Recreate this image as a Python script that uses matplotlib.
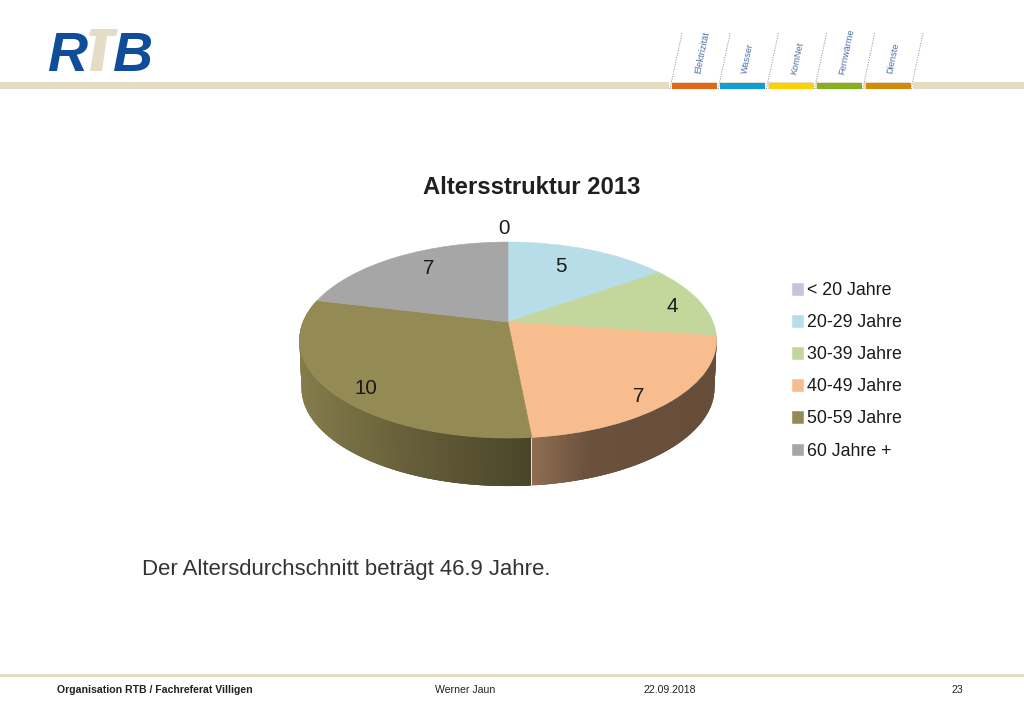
import numpy as np
import matplotlib
matplotlib.use("Agg")
import matplotlib.pyplot as plt
from matplotlib.collections import PolyCollection
from matplotlib.patches import Polygon, Rectangle
from matplotlib.transforms import Transform

categories = ["< 20 Jahre", "20-29 Jahre", "30-39 Jahre", "40-49 Jahre", "50-59 Jahre", "60 Jahre +"]
values = [0, 5, 4, 7, 10, 7]
colors = ["#ccc1da", "#b7dde8", "#c3d69b", "#f7bd8e", "#948a54", "#a6a6a6"]

tabs = ["Elektrizität", "Wasser", "KomNet", "Fernwärme", "Dienste"]
tab_colors = ["#e0661a", "#0f9ed5", "#fdd200", "#85b01f", "#d08c0a"]

BEIGE = "#e4dcc5"
BLUE = "#0f4c9a"

plt.rcParams["font.family"] = ["Liberation Sans", "DejaVu Sans"]


# tilted disc: front of the pie comes out bigger than the back
class Tilt(Transform):
    input_dims = 2
    output_dims = 2

    def transform_non_affine(self, values):
        values = np.asarray(values, dtype=float)
        w = 1 + 0.184 * values[:, 1]
        return np.column_stack([508 + 205 * values[:, 0] / w, 322 - 94.7 * values[:, 1] / w])


fig = plt.figure(figsize=(10.24, 7.09), dpi=100)
ax = fig.add_axes([0, 0, 1, 1])

wedges, _ = ax.pie(values, colors=colors, startangle=90, counterclock=False, frame=True)
tilt = Tilt()
for w, c in zip(wedges, colors):
    w.set_transform(tilt + ax.transData)
    w.set_edgecolor(c)
    w.set_linewidth(0.4)
    w.set_zorder(3)

ax.set_xlim(0, 1024)
ax.set_ylim(709, 0)
ax.set_aspect("auto")
ax.axis("off")

# side wall of the visible slices, shaded along x
shades = {3: ([532, 590, 716], [0.58, 0.43, 0.41]), 4: ([300, 400, 530], [0.9, 0.7, 0.5])}
for idx, (keys, fac) in shades.items():
    t = np.radians(np.linspace(wedges[idx].theta1, wedges[idx].theta2, 160))
    top = tilt.transform_non_affine(np.column_stack([np.cos(t), np.sin(t)]))
    low = top.copy()
    low[:, 0] = 508 + (low[:, 0] - 508) * 0.99
    low[:, 1] += 48
    # each strip overlaps the next one, otherwise the seams show
    quads = [[top[i], top[min(i + 3, len(t) - 1)], low[min(i + 3, len(t) - 1)], low[i]] for i in range(len(t) - 1)]
    base = np.array(matplotlib.colors.to_rgb(colors[idx]))
    mid = (top[:-1, 0] + top[1:, 0]) / 2
    cols = [tuple(base * f) for f in np.interp(mid, keys, fac)]
    ax.add_collection(PolyCollection(quads, facecolors=cols, edgecolors="none", zorder=2))
ax.plot([530.5, 530.5], [438, 486], color="#efe3d6", lw=0.7, zorder=2.5)

label_xy = [(504, 229), (561, 266), (672, 306), (639, 397), (366, 388), (429, 269)]
for v, (x, y) in zip(values, label_xy):
    ax.text(x, y, str(v), fontsize=14.8, ha="center", va="center", color="#1a1a1a", zorder=4)

ax.legend(wedges, categories, loc="upper left", bbox_to_anchor=(792, 282), bbox_transform=ax.transData,
          frameon=False, fontsize=12.8, labelspacing=0.85, handlelength=0.62, handleheight=0.62,
          handletextpad=0.25, borderpad=0, borderaxespad=0, labelcolor="#1a1a1a")

ax.text(532, 188, "Altersstruktur 2013", fontsize=17.2, fontweight="bold", ha="center", va="center", color="#1f1f1f")
ax.text(142, 570, "Der Altersdurchschnitt beträgt 46.9 Jahre.", fontsize=15.9, ha="left", va="center", color="#333333")

# header
ax.add_patch(Rectangle((0, 82), 1024, 7, color=BEIGE, lw=0))
for i, (name, c) in enumerate(zip(tabs, tab_colors)):
    ax.add_patch(Rectangle((672 + 48.4 * i, 83), 45, 6, color=c, lw=0, zorder=2))
for i in range(6):
    x = 670 + 48.2 * i
    ax.add_patch(Rectangle((x - 1.5, 82), 3, 7, color="white", lw=0, zorder=1.5))
    ax.plot([x, x + 12], [89, 33], color="#888888", lw=0.7, ls=(0, (1, 1.5)), zorder=3)
tab_xy = [(702, 53), (748, 58), (797, 58), (847, 52), (893, 58)]
for name, (x, y) in zip(tabs, tab_xy):
    ax.text(x, y, name, fontsize=6.6, rotation=78, ha="center", va="center", color="#4a6fa5")

# logo
ax.add_patch(Polygon([(91, 29), (118, 29), (116, 36), (107, 36), (102, 71), (90, 71), (96, 36), (89, 36)],
                     closed=True, color=BEIGE, lw=0))
ax.text(47, 71, "R", fontsize=40, fontweight="bold", style="italic", color=BLUE, ha="left", va="baseline")
ax.text(152, 71, "B", fontsize=40, fontweight="bold", style="italic", color=BLUE, ha="right", va="baseline")

# footer
ax.add_patch(Rectangle((0, 674), 1024, 2.5, color=BEIGE, lw=0))
ax.text(57, 690, "Organisation RTB / Fachreferat Villigen", fontsize=7.55, fontweight="bold", ha="left", va="center", color="#222222")
ax.text(435, 690, "Werner Jaun", fontsize=7.55, ha="left", va="center", color="#222222")
ax.text(643, 690, "22.09.2018", fontsize=7.55, ha="left", va="center", color="#222222")
ax.text(963, 690, "23", fontsize=7.55, ha="right", va="center", color="#222222")

plt.savefig("out.png", dpi=100)
